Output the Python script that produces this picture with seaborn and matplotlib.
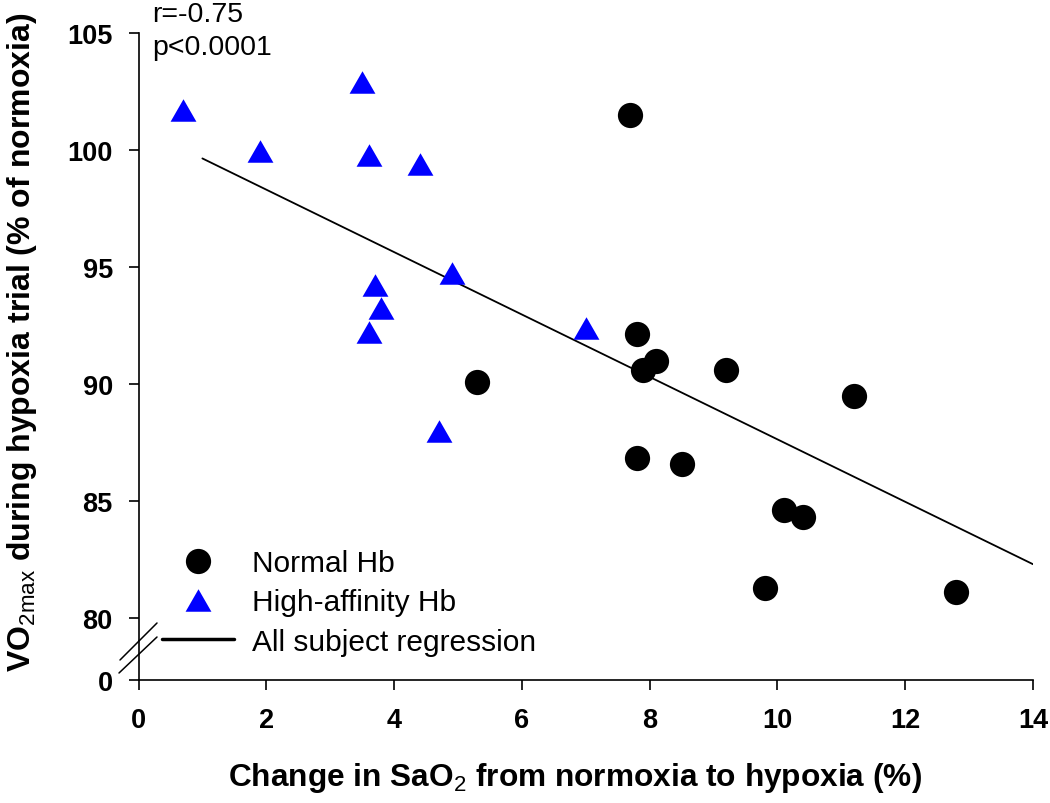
import numpy as np
import pandas as pd
import seaborn as sns
import matplotlib
matplotlib.use("Agg")
import matplotlib.pyplot as plt
from matplotlib.lines import Line2D

# ---- data ----
normal_x = [7.7, 7.8, 8.1, 7.9, 9.2, 5.3, 11.2, 7.8, 8.5, 10.1, 10.4, 9.8, 12.8]
normal_y = [101.5, 92.15, 91.0, 90.6, 90.6, 90.1, 89.5, 86.85, 86.6, 84.6, 84.3, 81.3, 81.1]
high_x = [0.7, 3.5, 1.9, 3.6, 4.4, 4.9, 3.7, 3.8, 3.6, 7.0, 4.7]
high_y = [101.7, 102.9, 99.95, 99.8, 99.4, 94.75, 94.25, 93.25, 92.25, 92.4, 88.0]
reg_x = [1.0, 14.0]
reg_y = [99.65, 82.3]
x_ticks = [0, 2, 4, 6, 8, 10, 12, 14]
y_ticks_top = [80, 85, 90, 95, 100, 105]
y_ticks_bottom = [0]
labels = ["Normal Hb", "High-affinity Hb", "All subject regression"]

sns.set_style("white")
plt.rcParams["font.family"] = ["Liberation Sans", "DejaVu Sans"]
plt.rcParams["mathtext.fontset"] = "custom"
plt.rcParams["mathtext.rm"] = "Liberation Sans"
plt.rcParams["mathtext.bf"] = "Liberation Sans:bold"
for k in ("text.color", "axes.labelcolor", "xtick.color", "ytick.color", "axes.edgecolor"):
    plt.rcParams[k] = "black"

W, H = 1050, 804
fig = plt.figure(figsize=(W / 100, H / 100), dpi=100)

def fx(px):
    return px / W

def fy(py):
    return 1 - py / H

left_px, right_px = 138.5, 1033
top_px, mid_px, bot_px = 34.3, 642.4, 681
ax = fig.add_axes([fx(left_px), fy(mid_px), fx(right_px - left_px), (mid_px - top_px) / H])
axb = fig.add_axes([fx(left_px), fy(bot_px), fx(right_px - left_px), (bot_px - mid_px) / H])

tri = [(-1, -0.87), (1, -0.87), (0, 0.87)]
msize = 330

df_n = pd.DataFrame({"x": normal_x, "y": normal_y})
df_h = pd.DataFrame({"x": high_x, "y": high_y})
sns.scatterplot(data=df_n, x="x", y="y", ax=ax, color="black", s=msize, marker="o",
                linewidth=0, zorder=3, legend=False)
sns.scatterplot(data=df_h, x="x", y="y", ax=ax, color="#0000ff", s=msize * 1.05, marker=tri,
                linewidth=0, zorder=3, legend=False)
sns.lineplot(x=reg_x, y=reg_y, ax=ax, color="black", lw=1.3, zorder=2)

lw_axis = 1.2
for a in (ax, axb):
    a.set_xlim(0, 14)
    for s in ("top", "right"):
        a.spines[s].set_visible(False)
    a.spines["left"].set_linewidth(lw_axis)
    a.spines["bottom"].set_linewidth(lw_axis)
    a.tick_params(direction="out", length=7.5, width=lw_axis, color="black",
                  labelsize=19.5, pad=11, left=True, bottom=True)
    a.set_xlabel("")
    a.set_ylabel("")

ax.set_ylim(79, 105)
ax.set_yticks(y_ticks_top)
ax.spines["bottom"].set_visible(False)
ax.set_xticks([])
ax.tick_params(axis="x", length=0, bottom=False)

axb.set_ylim(0, (bot_px - mid_px) / ((619 - 34.3) / 25))
axb.set_yticks(y_ticks_bottom)
axb.set_xticks(x_ticks)
axb.tick_params(axis="x", pad=12)
for a in (ax, axb):
    for lab in a.get_xticklabels() + a.get_yticklabels():
        lab.set_fontweight("bold")

# axis titles
fig.text(fx(575), fy(778), r"Change in SaO$_{\mathrm{2}}$ from normoxia to hypoxia (%)",
         ha="center", va="center", fontsize=22.8, fontweight="bold")
fig.text(fx(22), fy(342), r"VO$_{\mathrm{2max}}$ during hypoxia trial (% of normoxia)",
         ha="center", va="center", rotation=90, fontsize=23, fontweight="bold")

# stats
fig.text(fx(152), fy(22), "r=-0.75", ha="left", va="baseline", fontsize=20.5)
fig.text(fx(152), fy(55), "p<0.0001", ha="left", va="baseline", fontsize=20.5)

# break marks
for (x0, y0, x1, y1) in [(120, 661, 157, 624), (119, 674, 157, 638)]:
    fig.add_artist(Line2D([fx(x0), fx(x1)], [fy(y0), fy(y1)], color="black", lw=1.1,
                          transform=fig.transFigure))

# legend
handles = [
    Line2D([], [], ls="none", marker="o", color="black", markersize=np.sqrt(msize), markeredgewidth=0),
    Line2D([], [], ls="none", marker=tri, color="#0000ff", markersize=np.sqrt(msize * 1.05), markeredgewidth=0),
    Line2D([], [], color="black", lw=2.5),
]
fig.legend(handles, labels, loc="upper left", bbox_to_anchor=(fx(162), fy(550)),
           bbox_transform=fig.transFigure, frameon=False, fontsize=21.5, borderpad=0,
           borderaxespad=0, handlelength=2.4, handletextpad=0.6, labelspacing=0.38)

fig.savefig("out.png", dpi=100)
